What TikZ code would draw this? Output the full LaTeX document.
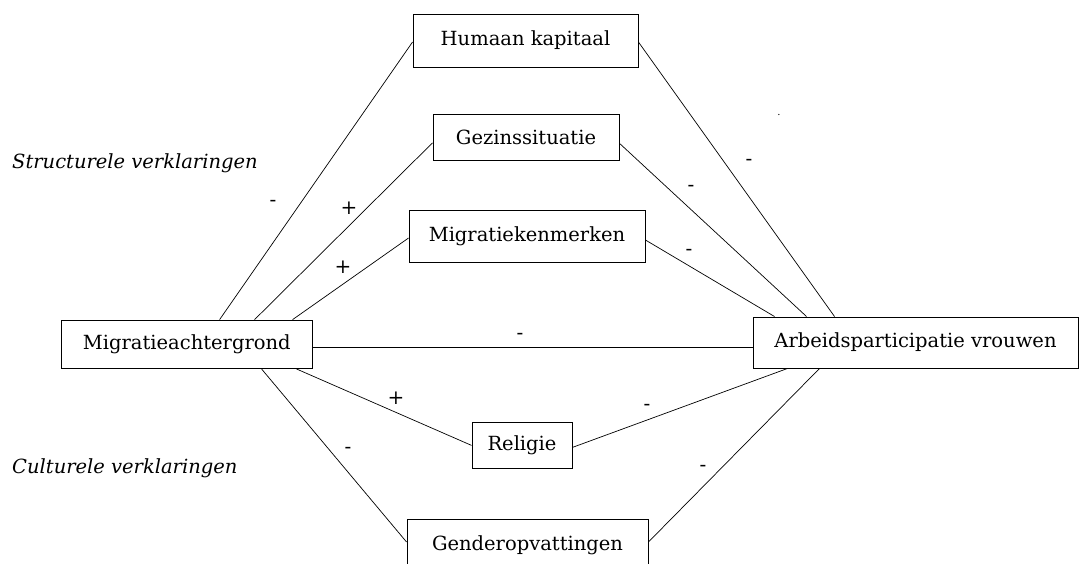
\documentclass[tikz,border=0pt]{standalone}
\usepackage{fontspec}
\setmainfont{DejaVu Serif}
\usetikzlibrary{calc}
\tikzset{
  box/.style={draw, line width=0.9pt, rectangle, inner sep=0pt, font=\fontsize{19.5}{23}\selectfont},
  conn/.style={line width=0.7pt},
  sign/.style={inner sep=0pt, font=\fontsize{20}{24}\selectfont},
  group/.style={inner sep=0pt, anchor=west, font=\fontsize{19.5}{23}\selectfont\itshape},
}
\begin{document}
\begin{tikzpicture}[x=1pt,y=-1pt]
\fill[white] (0,0) rectangle (1080,563);
\path[use as bounding box] (0,0) rectangle (1080,563);

\node[box, minimum width=225pt, minimum height=53pt] (hk) at (525.5,40.5) {Humaan kapitaal};
\node[box, minimum width=186pt, minimum height=46.5pt] (gs) at (526,137.3) {Gezinssituatie};
\node[box, minimum width=236pt, minimum height=52pt] (mk) at (527,236) {Migratiekenmerken};
\node[box, minimum width=251.5pt, minimum height=48.5pt] (ma) at (186.8,344.3) {Migratieachtergrond};
\node[box, minimum width=325pt, minimum height=51pt] (ap) at (915.5,342.5) {Arbeidsparticipatie vrouwen};
\node[box, minimum width=100pt, minimum height=45.5pt] (rel) at (522,445.4) {Religie};
\node[box, minimum width=241pt, minimum height=52pt] (gd) at (527.5,545) {Genderopvattingen};

\node[group] (sv) at (12,163) {Structurele verklaringen};
\node[group] (cv) at (12,468) {Culturele verklaringen};

% connectors from Migratieachtergrond
\draw[conn] ([xshift=159pt]ma.north west) -- ([yshift=-1.5pt]hk.west);
\draw[conn] ([xshift=194pt]ma.north west) -- ([yshift=-5.5pt]gs.west);
\draw[conn] ([xshift=232pt]ma.north west) -- ([yshift=-2pt]mk.west);
\draw[conn] ([yshift=-2.7pt]ma.east) -- ([yshift=-4.5pt]ap.west);
\draw[conn] ([xshift=236pt]ma.south west) -- (rel.west);
\draw[conn] ([xshift=201pt]ma.south west) -- ([yshift=3pt]gd.west);

% connectors to Arbeidsparticipatie
\draw[conn] ([yshift=-1.5pt]hk.east) -- ([xshift=82pt]ap.north west);
\draw[conn] ([yshift=-6pt]gs.east) -- ([xshift=54pt]ap.north west);
\draw[conn] ([yshift=-4pt]mk.east) -- ([xshift=22pt]ap.north west);
\draw[conn] ([yshift=-2pt]rel.east) -- ([xshift=35pt]ap.south west);
\draw[conn] ([yshift=3pt]gd.east) -- ([xshift=67pt]ap.south west);

% signs
\node[sign] (s1) at (273,203) {-};
\node[sign] (s2) at (349,208) {+};
\node[sign] (s3) at (343,267) {+};
\node[sign] (s4) at (749,162) {-};
\node[sign] (s5) at (691,188) {-};
\node[sign] (s6) at (689,252) {-};
\node[sign] (s7) at (520,336) {-};
\node[sign] (s8) at (396,398) {+};
\node[sign] (s9) at (647,407) {-};
\node[sign] (s10) at (348,450) {-};
\node[sign] (s11) at (703,468) {-};
\node[inner sep=0pt, font=\fontsize{10}{12}\selectfont] (dot) at (779,115) {.};
\end{tikzpicture}
\end{document}
